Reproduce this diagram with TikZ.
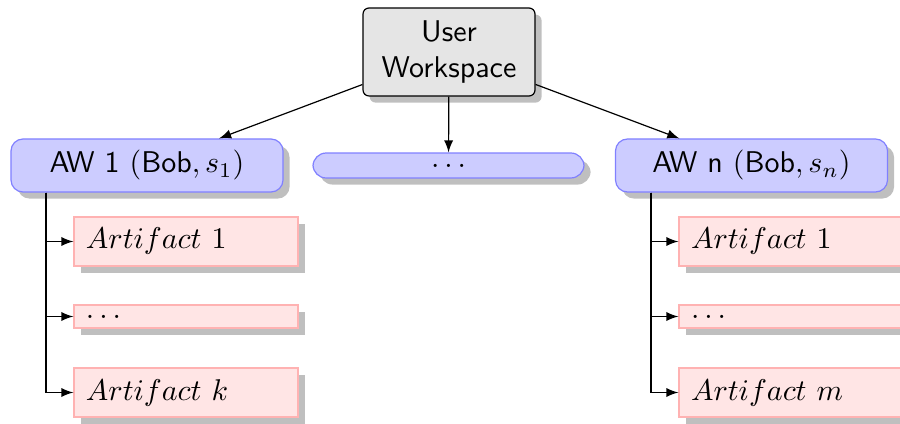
\documentclass[tikz,border=0pt]{standalone}
\usetikzlibrary{shadows,arrows}
\begin{document}
\begin{tikzpicture}[x=0.33333pt,y=-0.33333pt,
  shd/.style={drop shadow={shadow xshift=2.2pt,shadow yshift=-2.2pt}},
  wsbox/.style={draw=black, fill=black!10, rounded corners=2pt, shd,
    minimum width=57.33pt, minimum height=29.33pt, align=center,
    inner sep=0pt, font=\sffamily},
  awbox/.style={draw=blue!50, fill=blue!20, rounded corners=4pt, shd,
    minimum width=90.67pt, minimum height=17.67pt, inner sep=0pt, font=\sffamily},
  midbox/.style={draw=blue!50, fill=blue!20, rounded corners=4.4pt, shd,
    minimum width=90.33pt, minimum height=8.33pt, inner sep=0pt},
  artbox/.style={draw=red!30, fill=red!10, shd, text width=66.67pt,
    inner xsep=4pt, inner ysep=0pt, align=left},
  bigart/.style={artbox, minimum height=16.33pt},
  smallart/.style={artbox, minimum height=7.67pt},
  conn/.style={-latex}
]
\useasboundingbox (0,0) rectangle (900,424);

\node[wsbox] (uw) at (449,52) {User\\Workspace};

\node[awbox] (aw1) at (147,165.5) {AW 1 $(\textsf{Bob}, s_1)$};
\node[midbox] (mid) at (448.5,165.5) {$\dots$};
\node[awbox] (awn) at (751.5,165.5) {AW n $(\textsf{Bob}, s_n)$};

\node[bigart] (la1) at (186,241.5) {$Artifact\ 1$};
\node[smallart] (la2) at (186,316.5) {$\dots$};
\node[bigart] (la3) at (186,392.5) {$Artifact\ k$};

\node[bigart] (ra1) at (791,241.5) {$Artifact\ 1$};
\node[smallart] (ra2) at (791,316.5) {$\dots$};
\node[bigart] (ra3) at (791,392.5) {$Artifact\ m$};

\draw[conn] (uw) -- (aw1);
\draw[conn] (uw) -- (mid);
\draw[conn] (uw) -- (awn);

\coordinate (lx) at (46,192);
\coordinate (rx) at (651,192);
\draw[conn] (aw1.south -| lx) |- (la1.west);
\draw[conn] (aw1.south -| lx) |- (la2.west);
\draw[conn] (aw1.south -| lx) |- (la3.west);
\draw[conn] (awn.south -| rx) |- (ra1.west);
\draw[conn] (awn.south -| rx) |- (ra2.west);
\draw[conn] (awn.south -| rx) |- (ra3.west);
\end{tikzpicture}
\end{document}
